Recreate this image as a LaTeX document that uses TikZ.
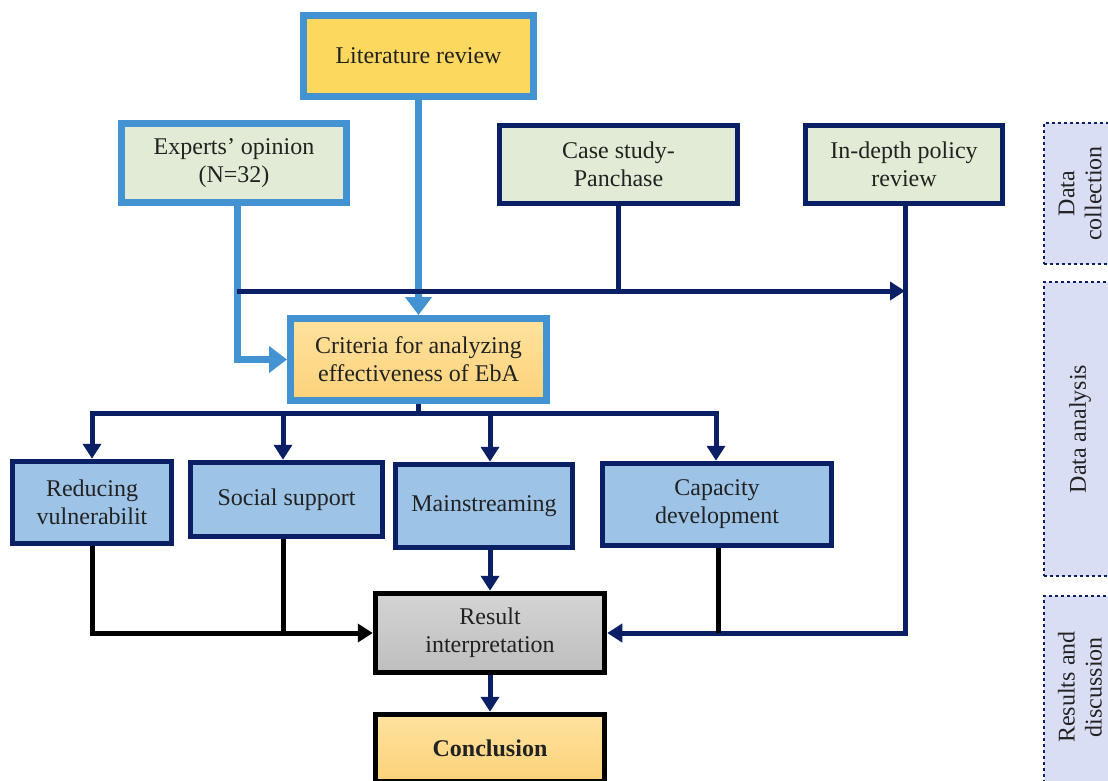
\documentclass[tikz,border=0pt]{standalone}
\usepackage{fontspec}
\setmainfont{Liberation Serif}
\usetikzlibrary{arrows.meta}
\definecolor{lb}{RGB}{67,147,211}
\definecolor{nv}{RGB}{11,31,101}
\definecolor{litY}{RGB}{253,216,94}
\definecolor{lgreen}{RGB}{226,235,213}
\definecolor{orT}{RGB}{255,226,158}
\definecolor{orB}{RGB}{252,210,122}
\definecolor{subb}{RGB}{157,195,230}
\definecolor{grT}{RGB}{212,212,212}
\definecolor{grB}{RGB}{190,190,190}
\definecolor{lav}{RGB}{218,222,244}
\definecolor{txt}{RGB}{34,34,34}
\tikzset{
  box/.style={draw, align=center, inner sep=0pt, text=txt, font=\fontsize{24}{28}\selectfont},
  lbbox/.style={box, draw=lb, line width=7pt},
  nvbox/.style={box, draw=nv, line width=5.5pt},
  bkbox/.style={box, draw=black, line width=5.5pt},
  side/.style={draw=nv, dashed, line width=1.3pt, fill=lav, inner sep=0pt},
  sidetext/.style={rotate=90, align=center, text=txt, font=\fontsize{24}{27}\selectfont},
  lbline/.style={draw=lb, line width=7pt},
  nvline/.style={draw=nv, line width=5pt},
  bkline/.style={draw=black, line width=5pt},
  lbarr/.style={-{Triangle[width=26pt,length=18pt]}},
  nvarr/.style={-{Triangle[width=18pt,length=15pt]}},
}
\begin{document}
\begin{tikzpicture}[x=1pt,y=-1pt]
\useasboundingbox (0,0) rectangle (1108,780);
% boxes
\node[lbbox, fill=litY, minimum width=230, minimum height=81] (Lit) at (418.5,56) {\raisebox{-2pt}{Literature review}};
\node[lbbox, fill=lgreen, minimum width=225, minimum height=79] (Exp) at (234,163) {\raisebox{-4pt}{Experts' opinion}\\\raisebox{-4pt}{(N=32)}};
\node[nvbox, fill=lgreen, minimum width=238, minimum height=78] (Case) at (618.5,164.5) {Case study-\\Panchase};
\node[nvbox, fill=lgreen, minimum width=197, minimum height=78] (Pol) at (904,164.5) {In-depth policy\\review};
\node[lbbox, top color=orT, bottom color=orB, minimum width=256, minimum height=82] (Crit) at (418.5,359.5) {Criteria for analyzing\\effectiveness of EbA};
\node[nvbox, fill=subb, minimum width=159, minimum height=82] (Red) at (92,502.5) {Reducing\\vulnerabilit};
\node[nvbox, fill=subb, minimum width=192, minimum height=74] (Soc) at (286.5,499.5) {Social support};
\node[nvbox, fill=subb, minimum width=177, minimum height=83] (Main) at (484,506) {\raisebox{-3pt}{Mainstreaming}};
\node[nvbox, fill=subb, minimum width=229, minimum height=82] (Cap) at (717,504.5) {Capacity\\development};
\node[bkbox, top color=grT, bottom color=grB, minimum width=229, minimum height=79] (Res) at (490,633) {\raisebox{-2pt}{Result}\\\raisebox{-2pt}{interpretation}};
\node[bkbox, top color=orT, bottom color=orB, minimum width=229, minimum height=67, font=\fontsize{24}{28}\selectfont\bfseries] (Con) at (490,748) {Conclusion};
% side labels
\node[side, minimum width=67, minimum height=141] (S1) at (1077.5,193.5) {};
\node[sidetext] at (1080,193.5) {Data\\collection};
\node[side, minimum width=67, minimum height=294] (S2) at (1077.5,429) {};
\node[sidetext] at (1080,429) {Data analysis};
\node[side, minimum width=67, minimum height=186] (S3) at (1077.5,689) {};
\node[sidetext] at (1080,687) {Results and\\discussion};
% coordinates
\coordinate (hl) at (237,291);
\coordinate (hr) at (905,291);
\coordinate (cb) at (418.5,413);
% light blue connectors
\draw[lbline, lbarr] (Lit.south) -- (Crit.north);
\draw[lbline, lbarr] ([xshift=3pt,yshift=2pt]Exp.south) |- (Crit.west);
% navy connectors
\draw[nvline, nvarr] (hl) -- (hr);
\draw[nvline] (Case.south) -- (Case.south |- hl);
\draw[nvline, nvarr] ([xshift=1pt]Pol.south) |- (Res.east);
\draw[nvline] (Crit.south) -- (cb);
\draw[nvline, nvarr] (cb) -| (Red.north);
\draw[nvline, nvarr] (cb) -| ([xshift=-3.5pt]Soc.north);
\draw[nvline, nvarr] (cb) -| ([xshift=6pt]Main.north);
\draw[nvline, nvarr] (cb) -| ([xshift=-1pt]Cap.north);
\draw[nvline, nvarr] (Res.north |- Main.south) -- (Res.north);
\draw[nvline, nvarr] (Res.south) -- (Con.north);
% black connectors
\draw[bkline, nvarr] (Red.south) |- (Res.west);
\draw[bkline] ([xshift=-3.5pt]Soc.south) -- ([xshift=-3.5pt]Soc.south |- Res.west);
\draw[bkline] ([xshift=1pt]Cap.south) -- ([xshift=1pt]Cap.south |- Res.east);
\end{tikzpicture}
\end{document}
